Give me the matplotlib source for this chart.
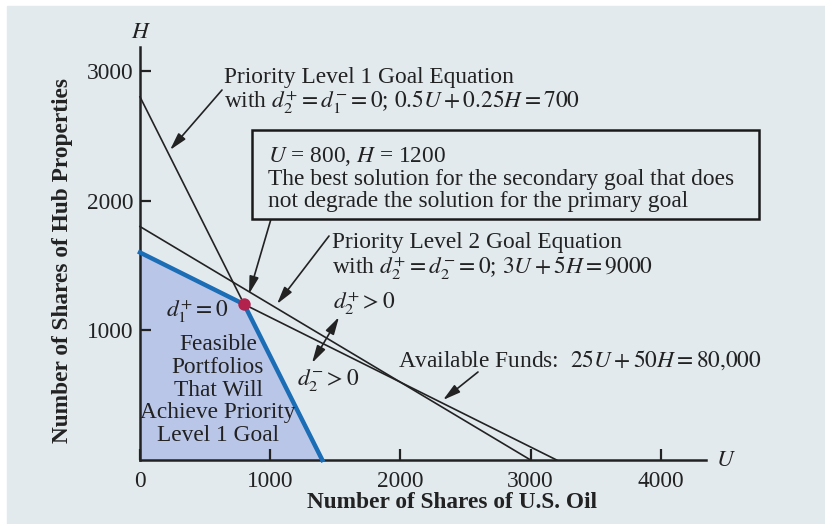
import matplotlib
matplotlib.use("Agg")
import matplotlib.pyplot as plt
from matplotlib.patches import Rectangle, Polygon

plt.rcParams['font.family'] = ['Liberation Serif', 'DejaVu Serif']
plt.rcParams['mathtext.fontset'] = 'stix'

# goal lines (U, H intercepts)
p1_u = [0, 1400]
p1_h = [2800, 0]
p2_u = [0, 3000]
p2_h = [1800, 0]
funds_u = [0, 3200]
funds_h = [1600, 0]
# region that meets the priority 1 goal within available funds
feasible_u = [0, 0, 800, 1400]
feasible_h = [0, 1600, 1200, 0]
best_u, best_h = 800, 1200

x_ticks = [0, 1000, 2000, 3000, 4000]
y_ticks = [1000, 2000, 3000]

BG = '#e2eaee'
FILL = '#b9c6e8'
BLUE = '#1b6db5'
DOT = '#b3214d'
FS = 16.8

# pixel layout of the axes origin and scale
X0, Y0 = 140, 460
SX, SY = 0.1302, 0.1297


def at(px, py):
    return ((px - X0) / SX, (Y0 - py) / SY)


fig = plt.figure(figsize=(8.25, 5.24), dpi=100)
fig.patch.set_facecolor('white')
fig.patches.append(Rectangle((7 / 825, 0), 1, (524 - 6) / 524,
                             transform=fig.transFigure, color=BG, zorder=-5))
ax = fig.add_axes([0, 0, 1, 1])
ax.set_facecolor('none')
ax.set_xlim(at(0, 0)[0], at(825, 0)[0])
ax.set_ylim(at(0, 524)[1], at(0, 0)[1])

for s in ['top', 'right']:
    ax.spines[s].set_visible(False)
ax.spines['left'].set_position(('data', 0))
ax.spines['bottom'].set_position(('data', 0))
ax.spines['left'].set_bounds(0, at(0, 47)[1])
ax.spines['bottom'].set_bounds(0, at(706, 0)[0])
for s in ['left', 'bottom']:
    ax.spines[s].set_linewidth(1.8)
    ax.spines[s].set_color('#222222')
ax.set_xticks(x_ticks)
ax.set_yticks(y_ticks)
ax.tick_params(axis='both', direction='in', length=8, width=1.6,
               labelsize=FS, colors='#222222')
ax.tick_params(axis='x', pad=8)
ax.tick_params(axis='y', pad=5)

# feasible region and goal lines
ax.add_patch(Polygon(list(zip(feasible_u, feasible_h)), closed=True,
                     facecolor=FILL, edgecolor='none', zorder=1))
ax.plot(p1_u, p1_h, color='#222222', lw=1.2, zorder=2)
ax.plot(p2_u, p2_h, color='#222222', lw=1.2, zorder=2)
ax.plot(funds_u, funds_h, color='#222222', lw=1.2, zorder=2)
ax.plot(feasible_u[1:], feasible_h[1:], color=BLUE, lw=3.2, zorder=3,
        solid_joinstyle='miter')
ax.scatter([best_u], [best_h], s=80, color=DOT, zorder=5, linewidths=0)

arrow = dict(arrowstyle='-|>,head_length=0.75,head_width=0.2', color='#222222',
             lw=1.2, mutation_scale=14, shrinkA=0, shrinkB=0)
dbl = dict(arrowstyle='<|-|>,head_length=0.75,head_width=0.2', color='#222222',
           lw=1.2, mutation_scale=14, shrinkA=0, shrinkB=0)

tc = '#222222'
# priority level 1 label
ax.text(*at(224, 83), 'Priority Level 1 Goal Equation', fontsize=FS, color=tc, va='baseline')
ax.text(*at(224, 108), r'with $d_2^{+} = d_1^{-} = 0$; $0.5U + 0.25H = 700$',
        fontsize=FS, color=tc, va='baseline')
ax.annotate('', xy=at(170, 150), xytext=at(222, 90), arrowprops=arrow)

# best solution box
x_b0, y_b0 = at(252, 219)
x_b1, y_b1 = at(759, 130)
ax.add_patch(Rectangle((x_b0, y_b0), x_b1 - x_b0, y_b1 - y_b0,
                       facecolor=BG, edgecolor='#1a1a1a', lw=1.8, zorder=4))
ax.text(*at(268, 162), r'$U$ = 800, $H$ = 1200', fontsize=FS, color=tc,
        va='baseline', zorder=6)
ax.text(*at(268, 185), 'The best solution for the secondary goal that does',
        fontsize=FS, color=tc, va='baseline', zorder=6)
ax.text(*at(268, 207), 'not degrade the solution for the primary goal',
        fontsize=FS, color=tc, va='baseline', zorder=6)
ax.annotate('', xy=at(249, 294), xytext=at(271, 219), arrowprops=arrow)

# priority level 2 label
ax.text(*at(332, 248), 'Priority Level 2 Goal Equation', fontsize=FS, color=tc, va='baseline')
ax.text(*at(332, 274), r'with $d_2^{+} = d_2^{-} = 0$; $3U + 5H = 9000$',
        fontsize=FS, color=tc, va='baseline')
ax.annotate('', xy=at(277, 304), xytext=at(329, 236), arrowprops=arrow)

# deviation markers
ax.text(*at(197, 311), r'$d_1^{+} = 0$', fontsize=FS, color=tc, ha='center', va='center')
ax.text(*at(364, 303), r'$d_2^{+} > 0$', fontsize=FS, color=tc, ha='center', va='center')
ax.text(*at(328, 380), r'$d_2^{-} > 0$', fontsize=FS, color=tc, ha='center', va='center')
ax.annotate('', xy=at(339, 317), xytext=at(312, 363), arrowprops=dbl)

ax.text(*at(218, 390), 'Feasible\nPortfolios\nThat Will\nAchieve Priority\nLevel 1 Goal',
        fontsize=FS, color=tc, ha='center', va='center', linespacing=1.1, zorder=4)

# available funds label
ax.text(*at(398, 367), r'Available Funds:  $25U + 50H = 80{,}000$', fontsize=FS,
        color=tc, va='baseline')
ax.annotate('', xy=at(443, 400), xytext=at(478, 372), arrowprops=arrow)

# axis names
ax.text(*at(141, 32), r'$H$', fontsize=FS, color=tc, ha='center', va='center')
ax.text(*at(726, 460), r'$U$', fontsize=FS, color=tc, ha='center', va='center')
ax.text(*at(452, 503), 'Number of Shares of U.S. Oil', fontsize=FS,
        fontweight='bold', color=tc, ha='center', va='center')
ax.text(*at(63, 260), 'Number of Shares of Hub Properties', fontsize=FS,
        fontweight='bold', color=tc, ha='center', va='center', rotation=90)

fig.savefig('out.png', dpi=100)
